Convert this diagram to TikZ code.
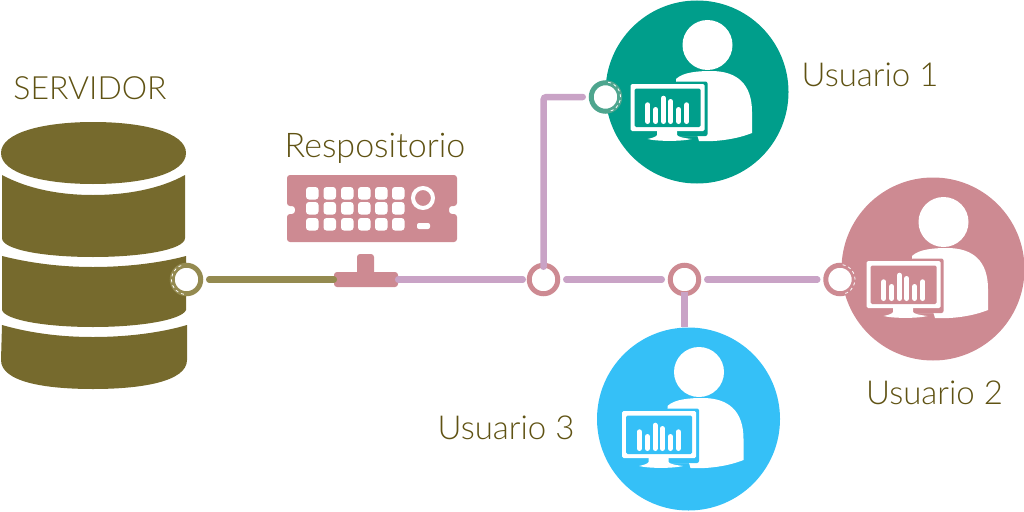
\documentclass[tikz,border=0pt]{standalone}
\usepackage{fontspec}
\setmainfont{Lato Light}
\usetikzlibrary{positioning}
\definecolor{olivo}{HTML}{766A2D}
\definecolor{olivoclaro}{HTML}{948A50}
\definecolor{rosa}{HTML}{CD8A92}
\definecolor{lila}{HTML}{C9A3C6}
\definecolor{verde}{HTML}{009E8B}
\definecolor{verdeclaro}{HTML}{4EA58E}
\definecolor{azul}{HTML}{35C0F7}
\definecolor{texto}{HTML}{5F5213}
\tikzstyle{etiqueta} = [text=texto, font=\fontsize{33}{33}\selectfont, inner sep=0pt]
\tikzstyle{circulo} = [circle, minimum size=183pt, inner sep=0pt]
\tikzstyle{anillo} = [circle, draw, line width=5pt, fill=white, minimum size=28.5pt, inner sep=0pt]
\tikzstyle{linea} = [line width=6.5pt, line cap=round, lila]
% icono de usuario: #1 centro, #2 color
\newcommand{\usuario}[2]{
  \begin{scope}[shift={#1}]
    \fill[white] (10.5,-47) circle (25);
    \fill[white] (-21,-13) .. controls (-14,-20) and (2,-21) .. (14,-21)
      .. controls (40,-21) and (55,-8) .. (55,20) -- (55,41)
      .. controls (40,47) and (20,50) .. (2,49) -- (0.5,44) -- (-21,44) -- cycle;
    \fill[#2, rounded corners=2] (-22,-10.5) rectangle (10.5,44);
    \fill[white, rounded corners=1.5] (-66.5,-8) rectangle (7.5,39);
    \fill[#2, rounded corners=1.5] (-62.5,-3.5) rectangle (3.5,35);
    \fill[white] (-40,39) -- (-40,43) .. controls (-41,45) and (-45,46) .. (-49.5,47)
      .. controls (-40,49.5) and (-15,49.5) .. (-5.5,47)
      .. controls (-13,46) and (-19,45) .. (-20,43) -- (-20,39) -- cycle;
    \foreach \x/\y in {-49.2/10.3, -41.2/15, -33.5/3.7, -26.2/7, -18.2/15, -10.2/10.3}
      \draw[white, line width=5pt, line cap=round] (\x,\y+2.5) -- (\x,29.5);
  \end{scope}
}
\begin{document}
\begin{tikzpicture}[x=1pt, y=-1pt]
  \useasboundingbox (0,0) rectangle (1024,511);

  % servidor
  \fill[olivo] (1,153) .. controls (1,132) and (45,122) .. (93,122)
    .. controls (142,122) and (186,132) .. (186,153)
    .. controls (186,174) and (142,184) .. (93,184)
    .. controls (45,184) and (1,174) .. (1,153) -- cycle;
  \fill[olivo] (2,175) .. controls (28,189) and (60,195) .. (93,195)
    .. controls (126,195) and (160,189) .. (185,175) -- (185,238)
    .. controls (185,250) and (140,257) .. (93,257)
    .. controls (45,257) and (2,250) .. (2,238) -- cycle;
  \fill[olivo] (2,256) .. controls (30,263) and (60,267) .. (93,267)
    .. controls (126,267) and (160,263) .. (186,256) -- (186,310)
    .. controls (182,320) and (140,327) .. (93,327)
    .. controls (45,327) and (5,320) .. (2,310) -- cycle;
  \fill[olivo] (2,325) .. controls (30,333) and (60,337) .. (93,337)
    .. controls (126,337) and (160,333) .. (187,325) -- (187,360)
    .. controls (187,382) and (140,389) .. (93,389)
    .. controls (45,389) and (1,382) .. (1,360) -- cycle;

  % repositorio
  \fill[rosa, rounded corners=3] (287,175) -- (457,175) -- (457,206) -- (449,206) -- (449,214)
    -- (457,214) -- (457,242) -- (287,242) -- (287,214) -- (295,214) -- (295,206) -- (287,206) -- cycle;
  \foreach \x in {306,323.5,341,358,375,392}
    \foreach \y in {187,202,218}
      \fill[white, rounded corners=3] (\x,\y) rectangle ++(12.5,12.5);
  \draw[white, line width=4pt] (423,198) circle (10);
  \fill[white, rounded corners=2] (417,223) rectangle (430,229);
  \node (conector) [fill=rosa, rounded corners=3, minimum width=64pt, minimum height=15pt, inner sep=0pt] at (366,279.5) {};
  \node (base) [fill=rosa, rounded corners=3, minimum width=17pt, minimum height=22pt, inner sep=0pt] at (365.5,265) {};

  % usuarios
  \node (circulo1) [circulo, fill=verde] at (697,92) {};
  \node (circulo2) [circulo, fill=rosa] at (933,269) {};
  \node (circulo3) [circulo, fill=azul] at (688.5,419) {};
  \usuario{(697,92)}{verde}
  \usuario{(933,269)}{rosa}
  \usuario{(688.5,419)}{azul}

  % anillos
  \node (srv) [anillo, draw=olivoclaro] at (186.5,279.5) {};
  \node (n1) [anillo, draw=rosa] at (543.5,279.5) {};
  \node (n2) [anillo, draw=rosa] at (684.5,279.5) {};
  \node (u1) [anillo, draw=verdeclaro] at (605.5,97) {};
  \node (u2) [anillo, draw=rosa] at (840,279.5) {};
  \draw[white, line width=0.8pt, dashed] ([shift={(100:15)}]srv.center) arc (100:260:15);
  \draw[white, line width=0.8pt, dashed] ([shift={(-80:15)}]u1.center) arc (-80:80:15);
  \draw[white, line width=0.8pt, dashed] ([shift={(-80:15)}]u2.center) arc (-80:80:15);

  % lineas
  \coordinate (esquina) at (n1 |- u1);
  \draw[line width=6.5pt, line cap=round, olivoclaro] ([xshift=6pt]srv.east) -- (conector.west);
  \draw[linea] (conector.east) -- ([xshift=-4pt]n1.west);
  \draw[linea] ([xshift=6pt]n1.east) -- ([xshift=-6pt]n2.west);
  \draw[linea] ([xshift=6pt]n2.east) -- ([xshift=-6pt]u2.west);
  \draw[linea, rounded corners=3] ([yshift=-4pt]n1.north) -- (esquina) -- ([xshift=-6pt]u1.west);
  \draw[linea, line cap=butt] ([yshift=4pt]n2.south) -- (n2 |- circulo3.north);

  % textos
  \node (servidor) [etiqueta, font=\fontsize{32}{32}\selectfont] at (90,88.5) {SERVIDOR};
  \node (repo) [etiqueta, font=\fontsize{34}{34}\selectfont] at (375,148) {Respositorio};
  \node (usuario1) [etiqueta] at (870,75) {Usuario 1};
  \node (usuario2) [etiqueta] at (934.5,393) {Usuario 2};
  \node (usuario3) [etiqueta] at (506,428) {Usuario 3};
\end{tikzpicture}
\end{document}
